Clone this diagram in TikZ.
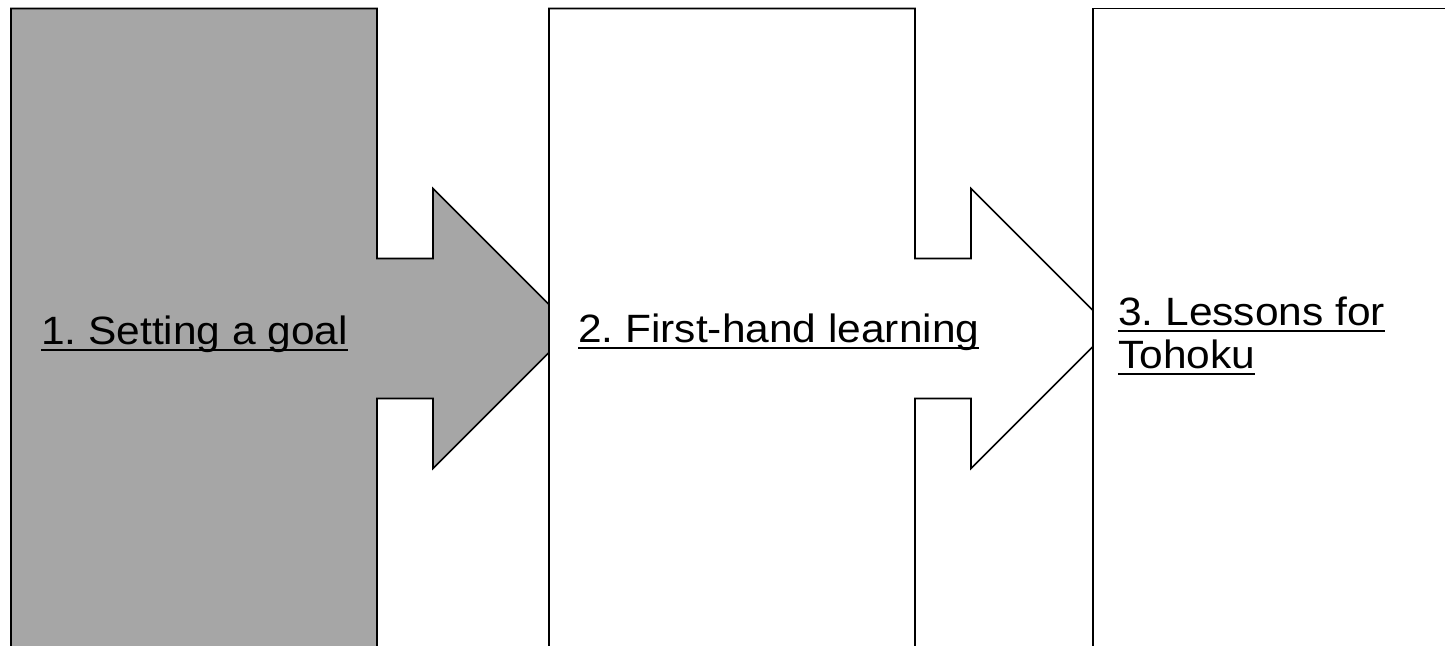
\documentclass[tikz,border=0pt]{standalone}
\usepackage{fontspec}
\setmainfont{Liberation Sans}
\newfontfamily\lblfont[FakeStretch=1.075]{Liberation Sans}
\definecolor{boxgray}{RGB}{166,166,166}
\newcommand\myul[1]{\setbox0\hbox{#1}\rlap{\rule[-7pt]{\wd0}{2.2pt}}\box0}
\frenchspacing
\tikzset{
  stage/.style={draw=black, line width=1.6pt, line join=miter},
  lbl/.style={inner sep=0pt, anchor=base west, font=\lblfont\fontsize{39.5}{44}\selectfont}
}
\begin{document}
\begin{tikzpicture}[x=1pt,y=-1pt]
\useasboundingbox (0,0) rectangle (1445,645);
\clip (0,0) rectangle (1445,645);
% stage 1
\draw[stage, fill=boxgray] (11,700) -- (11,8.5) -- (377,8.5) -- (377,258.5) -- (433,258.5) -- (433,188.5) -- (573,328.5) -- (433,468.5) -- (433,398.5) -- (377,398.5) -- (377,700) -- cycle;
% stage 2
\draw[stage, fill=white] (549,700) -- (549,8.5) -- (915,8.5) -- (915,258.5) -- (971,258.5) -- (971,188.5) -- (1111,328.5) -- (971,468.5) -- (971,398.5) -- (915,398.5) -- (915,700) -- cycle;
% stage 3
\draw[stage, fill=white] (1093,700) -- (1093,8.5) -- (1459,8.5) -- (1459,700) -- cycle;
\node[lbl] (t1) at (41,344) {\myul{1. Setting a goal}};
\node[lbl] (t2) at (578,342) {\myul{2. First-hand learning}};
\node[lbl] (t3) at (1118,325) {\myul{3. Lessons for}};
\node[lbl] (t3b) at (1118,368) {\myul{Tohoku}};
\end{tikzpicture}
\end{document}
